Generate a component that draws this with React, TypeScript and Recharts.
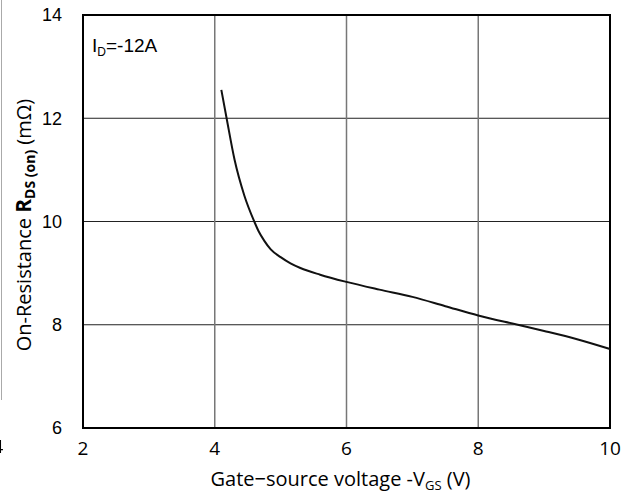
import React from "react";
import {
  LineChart,
  Line,
  XAxis,
  YAxis,
  CartesianGrid,
  ReferenceArea,
  Label,
} from "recharts";

// values (ID = -12A)
const vgs = [4.1, 4.18, 4.3, 4.45, 4.6, 4.67, 4.75, 4.85, 5.0, 5.15, 5.3, 5.6, 6.0, 6.5, 7.0, 7.5, 8.0, 8.6, 9.0, 9.5, 10];
const rds = [12.55, 12.0, 11.2, 10.5, 10.0, 9.8, 9.63, 9.46, 9.31, 9.19, 9.1, 8.97, 8.83, 8.68, 8.54, 8.36, 8.18, 8.0, 7.88, 7.72, 7.53];
const xTicks = [2, 4, 6, 8, 10];
const yTicks = [6, 8, 10, 12, 14];

const data = vgs.map((v, i) => ({ v, r: rds[i] }));

const CAL = "'Open Sans', 'Noto Sans', sans-serif";
const ARIAL = "'Liberation Sans', Arial, sans-serif";

// eslint-disable-next-line @typescript-eslint/no-explicit-any
function YTitle() {
  const cy = 225;
  return (
    <text
      x={31}
      y={cy}
      transform={`rotate(-90, 31, ${cy})`}
      textAnchor="middle"
      fontFamily={CAL}
      fontSize={20}
      fill="#000"
    >
      On-Resistance{" "}
      <tspan fontWeight="bold" fontSize={21}>R</tspan>
      <tspan fontWeight="bold" fontSize={14} dy={4}>DS (on)</tspan>
      <tspan dy={-4}> (mΩ)</tspan>
    </text>
  );
}

// eslint-disable-next-line @typescript-eslint/no-explicit-any
function XTitle({ viewBox }: any) {
  const cx = viewBox ? viewBox.x + viewBox.width / 2 - 6 : 340;
  return (
    <text x={cx} y={486} textAnchor="middle" fontFamily={CAL} fontSize={20} fill="#000">
      Gate−source voltage -V
      <tspan fontSize={13} dy={4}>GS</tspan>
      <tspan dy={-4}> (V)</tspan>
    </text>
  );
}

export default function App() {
  return (
    <div style={{ position: "fixed", left: 0, top: 0, width: 631, height: 495, background: "#fff" }}>
      <LineChart width={631} height={495} data={data} margin={{ top: 15, right: 21, left: 0, bottom: 0 }}>
        <CartesianGrid horizontal={true} vertical={false} stroke="#222" strokeWidth={1} />
        <CartesianGrid horizontal={false} vertical={true} stroke="#777" strokeWidth={1.5} />
        <XAxis
          type="number"
          dataKey="v"
          domain={[2, 10]}
          ticks={xTicks}
          height={67}
          axisLine={false}
          tickLine={false}
          tickSize={0}
          tickMargin={14}
          tick={{ fill: "#000", fontSize: 19, fontFamily: CAL }}
        >
          <Label content={<XTitle />} />
        </XAxis>
        <YAxis
          type="number"
          domain={[6, 14]}
          ticks={yTicks}
          width={83}
          axisLine={false}
          tickLine={false}
          tickSize={0}
          tickMargin={21}
          tick={{ fill: "#000", fontSize: 18, fontFamily: ARIAL }}
        >
          <Label content={<YTitle />} />
        </YAxis>
        <ReferenceArea x1={2} x2={10} y1={6} y2={14} fill="none" stroke="#000" strokeWidth={2} ifOverflow="visible" />
        <Line
          type="monotone"
          dataKey="r"
          stroke="#111"
          strokeWidth={2}
          dot={false}
          isAnimationActive={false}
        />
      </LineChart>
      <div
        style={{
          position: "absolute",
          left: 92,
          top: 35,
          fontFamily: ARIAL,
          fontSize: 19,
          color: "#000",
          whiteSpace: "nowrap",
        }}
      >
        I<sub style={{ fontSize: 12, verticalAlign: "-4px" }}>D</sub>=-12A
      </div>
      <div style={{ position: "absolute", left: 1, top: 0, width: 1, height: 400, background: "#aaa" }} />
      <div
        style={{
          position: "absolute",
          left: -7,
          top: 434,
          fontFamily: CAL,
          fontSize: 18,
          color: "#000",
        }}
      >
        4
      </div>
    </div>
  );
}
